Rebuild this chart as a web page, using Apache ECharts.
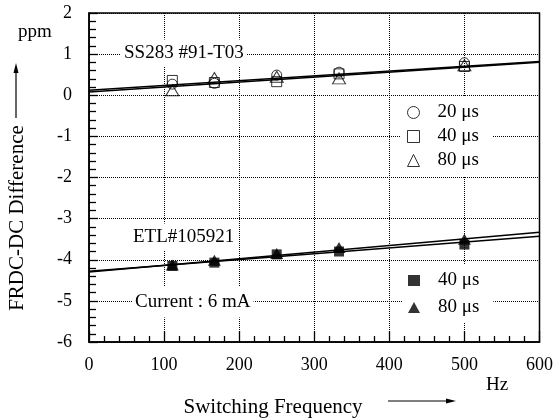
<!DOCTYPE html>
<html>
<head>
<meta charset="utf-8">
<script src="https://cdn.jsdelivr.net/npm/echarts@6/dist/echarts.min.js"></script>
<style>
html,body{margin:0;padding:0;background:#fff;}
#chart{width:556px;height:418px;}
</style>
</head>
<body>
<div id="chart"></div>
<script>
// ---- data ----
var freqs = [111, 167, 250, 333, 500];            // Hz (periods 9,6,4,3,2 ms)
var ss20 = [0.27, 0.29, 0.49, 0.56, 0.79];
var ss40 = [0.36, 0.31, 0.33, 0.52, 0.70];
var ss80 = [0.12, 0.42, 0.45, 0.41, 0.73];
var etl40 = [-4.15, -4.07, -3.87, -3.80, -3.63];
var etl80 = [-4.13, -4.01, -3.85, -3.70, -3.50];
var fitX = [0, 600];
var ssFitA = [0.08, 0.80];
var ssFitB = [0.12, 0.82];
var etlFit40 = [-4.28, -3.43];
var etlFit80 = [-4.30, -3.33];
var xTicks = [0, 100, 200, 300, 400, 500, 600];
var yTicks = [-6, -5, -4, -3, -2, -1, 0, 1, 2];

var FONT = '"Liberation Serif", "Times New Roman", serif';
function pairs(xs, ys){ return xs.map(function(x,i){ return [x, ys[i]]; }); }

var openStyle = {color:'rgba(0,0,0,0)', borderColor:'#000', borderWidth:1};
var fillStyle = {color:'#000', borderColor:'#000', borderWidth:0};

function fitLine(name, ys){
  return {name:name, type:'line', data:pairs(fitX, ys), symbol:'none', z:2,
    lineStyle:{color:'#000', width:1.5}, silent:true};
}
function pts(name, ys, sym, size, style){
  return {name:name, type:'scatter', data:pairs(freqs, ys), symbol:sym, symbolSize:size,
    itemStyle:style, z:3};
}
var gridLine = {show:true, lineStyle:{color:'#000', width:1, type:'dotted', opacity:1}};

var chart = echarts.init(document.getElementById('chart'));
chart.setOption({
  animation:false,
  backgroundColor:'#fff',
  grid:{left:89, right:16, top:13, bottom:76, show:true, borderColor:'#000', borderWidth:1.5, backgroundColor:'rgba(0,0,0,0)'},
  xAxis:{
    type:'value', min:0, max:600, interval:100,
    axisLine:{show:true, onZero:false, lineStyle:{color:'#000', width:1.5}},
    axisTick:{show:true, inside:true, length:11, lineStyle:{color:'#000', width:1.3}},
    minorTick:{show:true, splitNumber:5, length:6, lineStyle:{color:'#000', width:1.3}},
    splitLine:gridLine,
    axisLabel:{color:'#000', fontSize:18, fontFamily:FONT, margin:14,
      formatter:function(v){ return xTicks.indexOf(v) >= 0 ? String(v) : ''; }}
  },
  yAxis:{
    type:'value', min:-6, max:2, interval:1,
    axisLine:{show:true, onZero:false, lineStyle:{color:'#000', width:1.5}},
    axisTick:{show:true, inside:true, length:9, lineStyle:{color:'#000', width:1.3}},
    minorTick:{show:true, splitNumber:5, length:7, lineStyle:{color:'#000', width:1.3}},
    splitLine:gridLine,
    axisLabel:{color:'#000', fontSize:18, fontFamily:FONT, margin:17,
      formatter:function(v){ return yTicks.indexOf(v) >= 0 ? String(v) : ''; }}
  },
  legend:[
    {
      orient:'vertical', left:401, top:96, padding:[5,14,5,6],
      backgroundColor:'#fff', itemWidth:12, itemHeight:12, itemGap:1,
      selectedMode:false,
      textStyle:{color:'#000', fontSize:19, fontFamily:FONT, lineHeight:19, padding:[4,0,0,13]},
      data:[
        {name:'20 μs', icon:'circle', itemStyle:openStyle},
        {name:'40 μs', icon:'rect', itemStyle:openStyle},
        {name:'80 μs', icon:'triangle', itemStyle:openStyle}
      ]
    },
    {
      orient:'vertical', left:402, top:265, padding:[4,14,4,6],
      backgroundColor:'#fff', itemWidth:12, itemHeight:11, itemGap:4,
      selectedMode:false,
      textStyle:{color:'#000', fontSize:19, fontFamily:FONT, lineHeight:19, padding:[4,0,0,13]},
      data:[
        {name:'40\u00a0μs', icon:'rect', itemStyle:fillStyle},
        {name:'80\u00a0μs', icon:'triangle', itemStyle:fillStyle}
      ]
    }
  ],
  graphic:[
    {type:'text', z:1, x:121, y:53, style:{text:'SS283 #91-T03', font:'19px '+FONT, fill:'#000',
      verticalAlign:'middle', backgroundColor:'#fff', padding:[4,3]}},
    {type:'text', z:1, x:130, y:237, style:{text:'ETL#105921', font:'19px '+FONT, fill:'#000',
      verticalAlign:'middle', backgroundColor:'#fff', padding:[4,3]}},
    {type:'text', z:1, x:132, y:302, style:{text:'Current : 6 mA', font:'19px '+FONT, fill:'#000',
      verticalAlign:'middle', backgroundColor:'#fff', padding:[6,3]}},
    {type:'text', x:35, y:32, style:{text:'ppm', font:'19px '+FONT, fill:'#000', align:'center', verticalAlign:'middle'}},
    {type:'text', x:17, y:218, rotation:Math.PI/2, style:{text:'FRDC-DC Difference', font:'21px '+FONT, fill:'#000', align:'center', verticalAlign:'middle'}},
    {type:'line', shape:{x1:16, y1:118, x2:16, y2:70}, style:{stroke:'#000', lineWidth:1.2}},
    {type:'polygon', shape:{points:[[16,63],[13.5,73],[18.5,73]]}, style:{fill:'#000'}},
    {type:'text', x:497, y:385, style:{text:'Hz', font:'19px '+FONT, fill:'#000', align:'center', verticalAlign:'middle'}},
    {type:'text', x:273, y:407, style:{text:'Switching Frequency', font:'21px '+FONT, fill:'#000', align:'center', verticalAlign:'middle'}},
    {type:'line', shape:{x1:388, y1:401, x2:448, y2:401}, style:{stroke:'#000', lineWidth:1.2}},
    {type:'polygon', shape:{points:[[456,401],[446,398.5],[446,403.5]]}, style:{fill:'#000'}}
  ],
  series:[
    fitLine('ssFitA', ssFitA),
    fitLine('ssFitB', ssFitB),
    fitLine('etlFit40', etlFit40),
    fitLine('etlFit80', etlFit80),
    pts('20 μs', ss20, 'circle', 10, openStyle),
    pts('40 μs', ss40, 'rect', 10, openStyle),
    pts('80 μs', ss80, 'triangle', [13,11], openStyle),
    pts('40\u00a0μs', etl40, 'rect', 10, fillStyle),
    pts('80\u00a0μs', etl80, 'triangle', [13,11], fillStyle)
  ]
});
</script>
</body>
</html>
